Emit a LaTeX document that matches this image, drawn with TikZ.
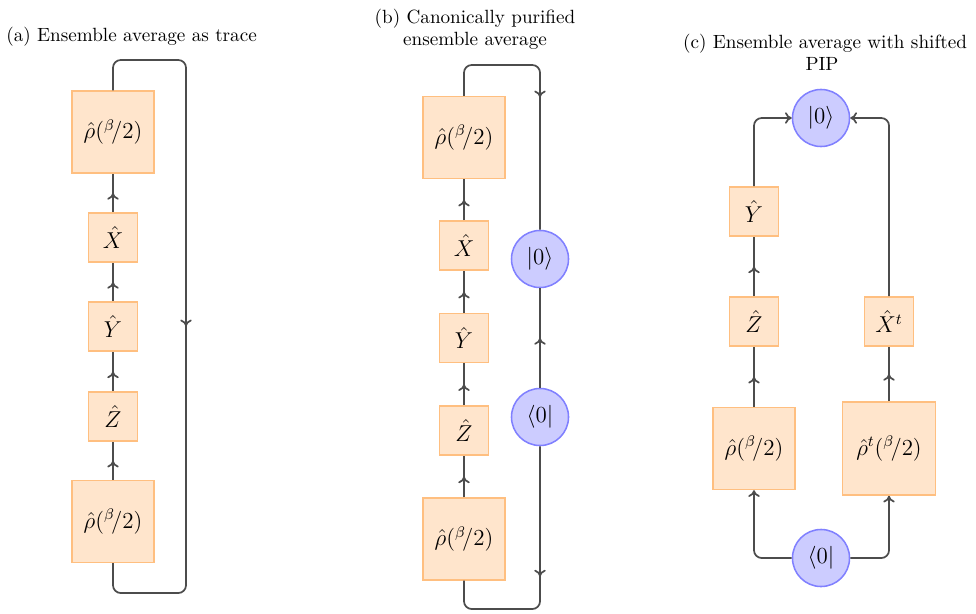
\documentclass[tikz,border=0pt]{standalone}
\usetikzlibrary{arrows.meta,decorations.markings}
\tikzset{
  ln/.style={draw=black!70, line width=0.9pt, rounded corners=4pt},
  midarrow/.style={postaction={decorate}, decoration={markings,
      mark=at position 0.5 with {\arrow[black!70, line width=0.9pt]{To[length=3.5pt,width=6pt]}}}},
  endarrow/.style={-{To[length=3.5pt,width=6pt]}},
  opbox/.style={rectangle, draw=orange!50, fill=orange!20, line width=0.8pt,
      minimum size=25.6pt, inner sep=0pt, font=\large},
  bigbox/.style={opbox, minimum size=42.8pt},
  widebox/.style={opbox, minimum size=48.6pt},
  statec/.style={circle, draw=blue!50, fill=blue!20, line width=0.8pt,
      minimum size=29.8pt, inner sep=0pt, font=\large},
  ttl/.style={inner sep=0pt, anchor=base},
}
\begin{document}
\begin{tikzpicture}[x=0.5225pt, y=-0.5225pt]
\useasboundingbox (0,0) rectangle (976,613);

% ---------- titles ----------
\node[ttl, anchor=base west] (ta) at (6,41) {(a) Ensemble average as trace};
\node[ttl] (tb1) at (475,23) {(b) Canonically purified};
\node[ttl] (tb2) at (475,45.5) {ensemble average};
\node[ttl] (tc1) at (825,48) {(c) Ensemble average with shifted};
\node[ttl] (tc2) at (822,70.5) {PIP};

% ---------- panel (a) ----------
\node[bigbox] (ra1) at (113,132) {$\hat{\rho}({}^{\beta}\!/2)$};
\node[opbox] (xa) at (113,237.5) {$\hat{X}$};
\node[opbox] (ya) at (113,326.5) {$\hat{Y}$};
\node[opbox] (za) at (113,416.5) {$\hat{Z}$};
\node[bigbox] (ra2) at (113,521.5) {$\hat{\rho}({}^{\beta}\!/2)$};
\coordinate (a1) at (113,60);
\coordinate (a2) at (186,60);
\coordinate (a3) at (186,593);
\coordinate (a4) at (113,593);

\draw[ln, midarrow] (ra2) -- (za);
\draw[ln, midarrow] (za) -- (ya);
\draw[ln, midarrow] (ya) -- (xa);
\draw[ln, midarrow] (xa) -- (ra1);
\draw[ln, midarrow] (ra1.north) -- (a1) -- (a2) -- (a3) -- (a4) -- (ra2.south);

% ---------- panel (b) ----------
\node[bigbox] (rb1) at (464,137.5) {$\hat{\rho}({}^{\beta}\!/2)$};
\node[opbox] (xb) at (464,245.5) {$\hat{X}$};
\node[opbox] (yb) at (464,338) {$\hat{Y}$};
\node[opbox] (zb) at (464,430.5) {$\hat{Z}$};
\node[bigbox] (rb2) at (464,539) {$\hat{\rho}({}^{\beta}\!/2)$};
\node[statec] (kb) at (540,259) {$|0\rangle$};
\node[statec] (bb) at (540,417) {$\langle 0|$};
\coordinate (b1) at (464,65);
\coordinate (b2) at (540,65);
\coordinate (b3) at (540,609);
\coordinate (b4) at (464,609);

\draw[ln, midarrow] (rb2) -- (zb);
\draw[ln, midarrow] (zb) -- (yb);
\draw[ln, midarrow] (yb) -- (xb);
\draw[ln, midarrow] (xb) -- (rb1);
\draw[ln, midarrow] (rb1.north) -- (b1) -- (b2) -- (kb.north);
\draw[ln, midarrow] (bb) -- (kb);
\draw[ln, midarrow] (bb.south) -- (b3) -- (b4) -- (rb2.south);

% ---------- panel (c) ----------
\node[statec] (kc) at (821,118) {$|0\rangle$};
\node[statec] (bc) at (821,558) {$\langle 0|$};
\node[opbox] (yc) at (754,211.5) {$\hat{Y}$};
\node[opbox] (zc) at (754,321.5) {$\hat{Z}$};
\node[bigbox] (rc) at (754,448.5) {$\hat{\rho}({}^{\beta}\!/2)$};
\node[opbox] (xtc) at (889,321.5) {$\hat{X}^t$};
\node[widebox] (rtc) at (889,448.5) {$\hat{\rho}^t({}^{\beta}\!/2)$};

\draw[ln, midarrow] (rc) -- (zc);
\draw[ln, midarrow] (zc) -- (yc);
\draw[ln, midarrow] (rtc) -- (xtc);
\draw[ln, endarrow] (yc.north) |- (kc.west);
\draw[ln, endarrow] (xtc.north) |- (kc.east);
\draw[ln, endarrow] (bc.west) -| (rc.south);
\draw[ln, endarrow] (bc.east) -| (rtc.south);
\end{tikzpicture}
\end{document}
